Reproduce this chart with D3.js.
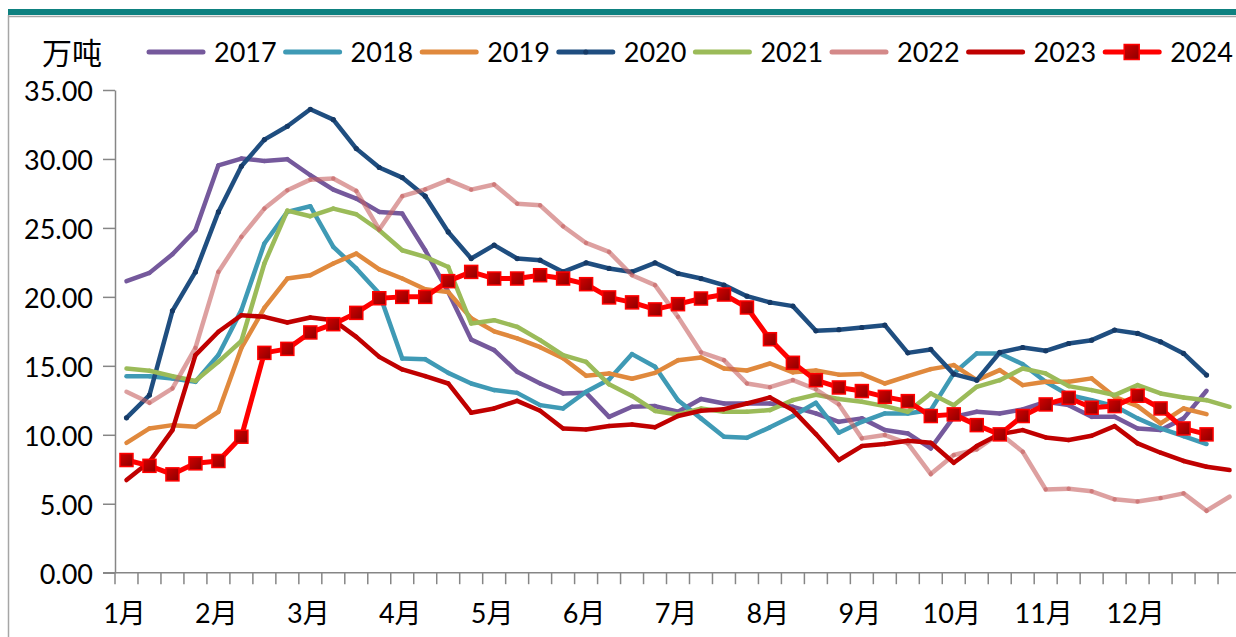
<!DOCTYPE html>
<html>
<head>
<meta charset="utf-8">
<script src="https://cdn.jsdelivr.net/npm/d3@7"></script>
<style>
  body { margin: 0; background: #fff; }
  svg text { font-family: Lato, "Noto Sans CJK SC", sans-serif; fill: #000; }
</style>
</head>
<body>
<div id="chart"></div>
<script>

const FRAME_WIDTH = 1236;
const FRAME_HEIGHT = 637;
const PLOT = {left: 115, top: 90, bottom: 572.7};
const CAT_W = 22.98;
const N_CATS = 53;

// data (万吨, weekly)
const months = ["1月","2月","3月","4月","5月","6月","7月","8月","9月","10月","11月","12月"];
const years = ["2017","2018","2019","2020","2021","2022","2023","2024"];
const colors = ["#75599c","#3f9ab5","#e0893d","#1f4e80","#9bbb59","#c66161","#c00000","#ff0000"];
const opacities = [1, 1, 1, 1, 1, 0.6, 1, 1];
const yTicks = [0, 5, 10, 15, 20, 25, 30, 35];

const y2017 = [21.14,21.74,23.09,24.83,29.54,30.03,29.86,29.98,28.82,27.78,27.13,26.16,26.04,23.38,20.36,16.9,
  16.14,14.57,13.72,13.0,13.04,11.3,12.03,12.08,11.67,12.59,12.27,12.27,12.27,12.03,11.55,10.94,
  11.19,10.34,10.1,9.01,11.3,11.67,11.55,11.84,12.39,12.15,11.3,11.3,10.46,10.34,11.19,13.19];
const y2018 = [14.25,14.25,14.08,13.84,15.78,19.04,23.87,26.16,26.57,23.63,22.06,20.25,15.53,15.48,14.49,13.72,
  13.24,13.04,12.15,11.91,13.12,14.01,15.85,14.93,12.51,11.19,9.86,9.78,10.54,11.36,12.32,10.15,
  10.94,11.55,11.55,11.79,14.45,15.9,15.9,15.12,13.84,12.88,12.51,12.08,11.19,10.46,9.9,9.33];
const y2019 = [9.42,10.46,10.7,10.58,11.67,16.3,19.2,21.33,21.57,22.42,23.14,22.0,21.33,20.55,20.36,18.45,
  17.5,16.99,16.35,15.55,14.28,14.45,14.06,14.49,15.41,15.61,14.81,14.66,15.17,14.53,14.66,14.36,
  14.4,13.72,14.25,14.76,15.05,13.96,14.69,13.6,13.84,13.84,14.09,12.75,12.08,10.83,11.91,11.5];
const y2020 = [11.23,12.88,18.99,21.81,26.16,29.47,31.4,32.37,33.6,32.85,30.75,29.38,28.65,27.3,24.71,22.78,
  23.75,22.78,22.66,21.81,22.47,22.06,21.81,22.47,21.69,21.33,20.85,20.05,19.6,19.33,17.54,17.62,
  17.78,17.95,15.94,16.19,14.4,13.96,15.97,16.33,16.09,16.62,16.86,17.59,17.35,16.74,15.9,14.33];
const y2021 = [14.81,14.64,14.25,13.91,15.29,16.8,22.42,26.25,25.85,26.4,25.99,24.83,23.38,22.9,22.17,18.07,
  18.31,17.83,16.86,15.78,15.29,13.66,12.82,11.73,11.47,11.9,11.67,11.67,11.79,12.51,12.9,12.6,
  12.39,12.08,11.67,13.0,12.15,13.48,13.96,14.81,14.45,13.53,13.24,12.88,13.6,13.0,12.71,12.51,12.03];
const y2022 = [13.12,12.32,13.36,16.3,21.81,24.35,26.4,27.73,28.5,28.58,27.68,24.88,27.3,27.8,28.46,27.78,
  28.15,26.76,26.64,25.12,23.91,23.26,21.57,20.85,18.55,15.98,15.41,13.72,13.45,13.96,13.3,12.2,
  9.74,9.98,9.38,7.15,8.53,8.94,10.1,8.77,6.04,6.09,5.9,5.32,5.17,5.41,5.75,4.49,5.51];
const y2023 = [6.72,8.04,10.34,15.78,17.47,18.67,18.55,18.14,18.5,18.31,17.1,15.65,14.74,14.25,13.72,11.6,
  11.91,12.46,11.74,10.46,10.39,10.63,10.75,10.54,11.36,11.74,11.86,12.27,12.71,11.79,10.05,8.17,
  9.18,9.33,9.57,9.42,7.97,9.18,10.05,10.34,9.81,9.62,9.93,10.63,9.38,8.7,8.1,7.68,7.44];
const y2024 = [8.17,7.75,7.13,7.93,8.1,9.86,15.94,16.23,17.42,18.02,18.84,19.9,20.0,20.0,21.14,21.81,
  21.33,21.33,21.57,21.33,20.92,19.96,19.6,19.09,19.47,19.88,20.17,19.23,16.93,15.22,13.96,13.43,
  13.17,12.75,12.44,11.36,11.48,10.7,10.03,11.36,12.2,12.68,11.96,12.08,12.83,11.91,10.46,10.03];

const series = [y2017, y2018, y2019, y2020, y2021, y2022, y2023, y2024];

const FRAME1 = d3.select("#chart")
                  .append("svg")
                    .attr("width", FRAME_WIDTH)
                    .attr("height", FRAME_HEIGHT);

const defs = FRAME1.append("defs");
const mg = defs.append("linearGradient").attr("id", "mk").attr("x1", 0).attr("y1", 0).attr("x2", 1).attr("y2", 1);
mg.append("stop").attr("offset", "0%").attr("stop-color", "#d40000");
mg.append("stop").attr("offset", "100%").attr("stop-color", "#8a0000");
const bg = defs.append("linearGradient").attr("id", "bot");
bg.append("stop").attr("offset", "0%").attr("stop-color", "#e4f5f5");
bg.append("stop").attr("offset", "100%").attr("stop-color", "#1e9292");

// frame
FRAME1.append("rect").attr("x", 8).attr("y", 9).attr("width", FRAME_WIDTH - 8).attr("height", 6).attr("fill", "#0e8180");
FRAME1.append("line").attr("x1", 8).attr("x2", FRAME_WIDTH).attr("y1", 16.5).attr("y2", 16.5)
  .attr("stroke", "#a6a6a6").attr("stroke-width", 1.5);
FRAME1.append("line").attr("x1", 8.5).attr("x2", 8.5).attr("y1", 15).attr("y2", FRAME_HEIGHT)
  .attr("stroke", "#a6a6a6").attr("stroke-width", 1.5);
FRAME1.append("line").attr("x1", 8).attr("x2", FRAME_WIDTH).attr("y1", 635.5).attr("y2", 635.5)
  .attr("stroke", "url(#bot)").attr("stroke-width", 2);

const x = d3.scaleBand().domain(d3.range(N_CATS)).range([PLOT.left, PLOT.left + N_CATS * CAT_W]);
const y = d3.scaleLinear().domain([0, 35]).range([PLOT.bottom, PLOT.top]);
const cx = (i) => x(i) + x.bandwidth() / 2;

// y axis
const yAxis = FRAME1.append("g")
  .attr("transform", `translate(${PLOT.left},0)`)
  .call(d3.axisLeft(y).tickValues(yTicks).tickFormat(d3.format(".2f")).tickSize(12).tickSizeOuter(0).tickPadding(10));
yAxis.selectAll("path, line").attr("stroke", "#868686").attr("stroke-width", 1.5);
yAxis.selectAll("text").attr("font-size", 27).attr("dy", "0.4em")
  .style("font-family", "Lato, sans-serif");

// x axis
FRAME1.append("line").attr("x1", 103).attr("x2", FRAME_WIDTH).attr("y1", PLOT.bottom).attr("y2", PLOT.bottom)
  .attr("stroke", "#868686").attr("stroke-width", 1.5);
FRAME1.selectAll(".xtick")
  .data(d3.range(N_CATS))
  .enter()
  .append("line")
    .attr("x1", (d) => x(d)).attr("x2", (d) => x(d))
    .attr("y1", PLOT.bottom).attr("y2", PLOT.bottom + 11.5)
    .attr("stroke", "#868686").attr("stroke-width", 1.5);
FRAME1.selectAll(".xlab")
  .data(months)
  .enter()
  .append("text")
    .attr("x", (d, i) => cx(i * 4) - 2)
    .attr("y", 622.5)
    .attr("text-anchor", "middle")
    .attr("font-size", 27)
    .text((d) => d);

// series lines: drawn as separate segments so translucent lines darken at the joints
series.forEach((vals, s) => {
  const g = FRAME1.append("g").attr("class", "series");
  g.selectAll("line")
    .data(d3.pairs(vals.map((v, i) => [i, v])))
    .enter()
    .append("line")
      .attr("x1", (d) => cx(d[0][0])).attr("y1", (d) => y(d[0][1]))
      .attr("x2", (d) => cx(d[1][0])).attr("y2", (d) => y(d[1][1]))
      .attr("stroke", colors[s])
      .attr("stroke-opacity", opacities[s])
      .attr("stroke-width", s == 7 ? 5 : 4.5)
      .attr("stroke-linecap", "round");
  if (years[s] == "2020") {
    g.selectAll("circle")
      .data(vals)
      .enter()
      .append("circle")
        .attr("cx", (d, i) => cx(i)).attr("cy", (d) => y(d))
        .attr("r", 2.6).attr("fill", "#163a66");
  }
  if (years[s] == "2024") {
    g.selectAll("rect")
      .data(vals)
      .enter()
      .append("rect")
        .attr("x", (d, i) => cx(i) - 6.5).attr("y", (d) => y(d) - 6.5)
        .attr("width", 13).attr("height", 13)
        .attr("fill", "url(#mk)").attr("stroke", "#ff0000").attr("stroke-width", 1.5);
  }
});

// legend
FRAME1.append("text").attr("x", 42).attr("y", 64).attr("font-size", 30)
  .style("font-family", "'Noto Sans CJK SC', sans-serif").text("万吨");
const legend = FRAME1.selectAll(".leg")
  .data(years)
  .enter()
  .append("g")
    .attr("transform", (d, i) => `translate(${147 + i * 136.6},52)`);
legend.append("line").attr("x1", 2).attr("x2", 56)
  .attr("stroke", (d, i) => colors[i])
  .attr("stroke-opacity", (d, i) => opacities[i] < 1 ? 0.75 : 1)
  .attr("stroke-width", 5).attr("stroke-linecap", "round");
legend.filter((d) => d == "2020").append("circle").attr("cx", 29).attr("r", 2.6).attr("fill", "#163a66");
legend.filter((d) => d == "2024").append("rect").attr("x", 21).attr("y", -7.5).attr("width", 15).attr("height", 15)
  .attr("fill", "url(#mk)").attr("stroke", "#ff0000").attr("stroke-width", 1.5);
legend.append("text").attr("x", 67).attr("y", 9.7).attr("font-size", 27).text((d) => d);

</script>
</body>
</html>
